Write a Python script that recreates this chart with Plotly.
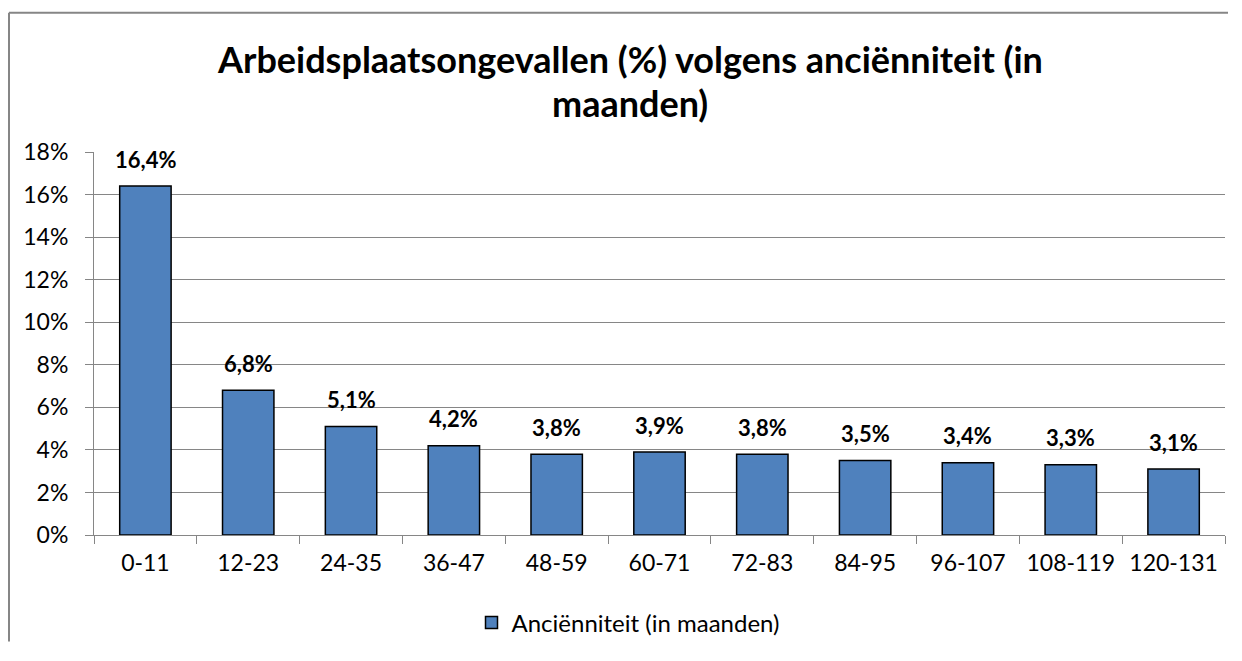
import plotly.graph_objects as go

categories = ["0-11", "12-23", "24-35", "36-47", "48-59", "60-71", "72-83",
              "84-95", "96-107", "108-119", "120-131"]
values = [16.4, 6.8, 5.1, 4.2, 3.8, 3.9, 3.8, 3.5, 3.4, 3.3, 3.1]
y_ticks = [0, 2, 4, 6, 8, 10, 12, 14, 16, 18]
y_tick_labels = [f"{v}%" for v in y_ticks]
series_name = "Anciënniteit (in maanden)"
title_lines = ["Arbeidsplaatsongevallen (%) volgens anciënniteit (in", "maanden)"]

# page body has an 8px margin; figure is laid out in its own pixel coords
W, H = 1220, 640
L, R, T, B = 86, 3, 144, 108
pw = W - L - R
ph = H - T - B
FONT = "Lato, Carlito, Calibri, sans-serif"


def px_to_paper_x(px):
    return (px - L) / pw


def px_to_paper_y(py):
    return (T + ph - py) / ph


fig = go.Figure()
fig.add_trace(go.Bar(
    x=categories, y=values, name=series_name,
    marker=dict(color="#4F81BD", line=dict(color="#000000", width=1.5)),
    width=0.5,
))

for c, v in zip(categories, values):
    fig.add_annotation(
        x=c, y=v, text=f"<b>{str(v).replace('.', ',')}%</b>",
        showarrow=False, yanchor="middle", yshift=27,
        font=dict(family=FONT, size=22, color="#000000"),
    )

for i, line in enumerate(title_lines):
    fig.add_annotation(
        xref="paper", yref="paper",
        x=px_to_paper_x(622), y=px_to_paper_y(50 + 44 * i),
        xanchor="center", yanchor="middle", showarrow=False,
        text=f"<b>{line}</b>",
        font=dict(family=FONT, size=36, color="#000000"),
    )

# chart-area frame (only left and top edges are visible in the reference)
frame = dict(color="#868686", width=2)
fig.add_shape(type="line", xref="paper", yref="paper",
              x0=px_to_paper_x(1), x1=px_to_paper_x(1),
              y0=px_to_paper_y(H), y1=px_to_paper_y(3), line=frame, layer="below")
fig.add_shape(type="line", xref="paper", yref="paper",
              x0=px_to_paper_x(1), x1=px_to_paper_x(W),
              y0=px_to_paper_y(3), y1=px_to_paper_y(3), line=frame, layer="below")

fig.update_layout(
    width=W, height=H,
    margin=dict(l=L, r=R, t=T, b=B, pad=0),
    paper_bgcolor="white", plot_bgcolor="white",
    font=dict(family=FONT, size=23, color="#000000"),
    showlegend=True,
    legend=dict(orientation="h", x=px_to_paper_x(620), xanchor="center",
                y=px_to_paper_y(621), yanchor="middle",
                font=dict(family=FONT, size=24), itemwidth=30),
    xaxis=dict(
        type="category", showgrid=False, showline=True, linecolor="#868686",
        linewidth=1, ticks="outside", ticklen=8, tickcolor="#868686",
        tickson="boundaries", ticklabelstandoff=7,
        tickfont=dict(family=FONT, size=23),
    ),
    yaxis=dict(
        range=[0, 18], tickvals=y_ticks, ticktext=y_tick_labels,
        showgrid=True, gridcolor="#868686", gridwidth=1,
        showline=True, linecolor="#868686", linewidth=1,
        ticks="outside", ticklen=8, tickcolor="#868686",
        ticklabelstandoff=12, zeroline=False,
        tickfont=dict(family=FONT, size=23),
    ),
    bargap=0.5,
)

fig.write_html("out.html")
